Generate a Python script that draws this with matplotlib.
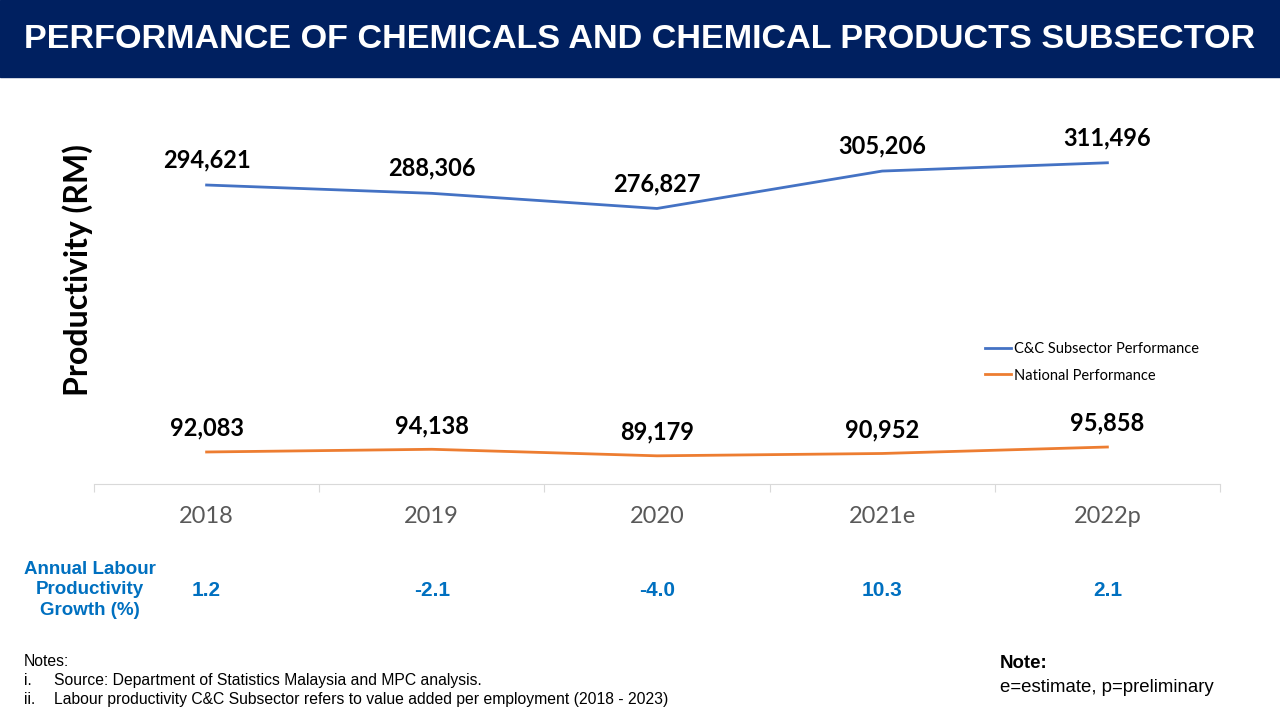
import matplotlib.pyplot as plt
from matplotlib.transforms import blended_transform_factory

years = ["2018", "2019", "2020", "2021e", "2022p"]
cc_values = [294621, 288306, 276827, 305206, 311496]
national_values = [92083, 94138, 89179, 90952, 95858]
growth = ["1.2", "-2.1", "-4.0", "10.3", "2.1"]

navy = "#002060"
blue = "#4472C4"
orange = "#ED7D31"
label_blue = "#0070C0"

fig = plt.figure(figsize=(12.8, 7.2), dpi=100)

# title bar
fig.patches.append(plt.Rectangle((0, 1 - 77 / 720), 1, 77 / 720, transform=fig.transFigure,
                                 color=navy, zorder=0))
fig.text(0.5, 1 - 40 / 720, "PERFORMANCE OF CHEMICALS AND CHEMICAL PRODUCTS SUBSECTOR",
         ha="center", va="center", color="white", fontsize=24.6, fontweight="bold",
         family="Liberation Sans")

ax = fig.add_axes([94 / 1280, 1 - 484 / 720, (1220 - 94) / 1280, (484 - 90) / 720])
x = list(range(len(years)))
ax.plot(x, cc_values, color=blue, lw=2, label="C&C Subsector Performance")
ax.plot(x, national_values, color=orange, lw=2, label="National Performance")

ax.set_xlim(-0.5, len(years) - 0.5)
ax.set_ylim(67800, 366700)

for xi, v in zip(x, cc_values):
    ax.annotate(f"{v:,}", (xi, v), xytext=(0, 18), textcoords="offset points",
                ha="center", va="center", fontsize=17, fontweight="bold", family="Lato")
for xi, v in zip(x, national_values):
    ax.annotate(f"{v:,}", (xi, v), xytext=(0, 17), textcoords="offset points",
                ha="center", va="center", fontsize=17, fontweight="bold", family="Lato")

for s in ["top", "right", "left"]:
    ax.spines[s].set_visible(False)
ax.spines["bottom"].set_color("#D9D9D9")
ax.set_yticks([])
ax.set_xticks([i - 0.5 for i in range(len(years) + 1)])
ax.set_xticklabels([])
ax.tick_params(axis="x", which="major", length=6, color="#D9D9D9")
ax.set_xticks(x, minor=True)
ax.set_xticklabels(years, minor=True, fontsize=17, color="#595959", family="Lato")
ax.tick_params(axis="x", which="minor", length=0, pad=16)

fig.text(78 / 1280, 1 - 270 / 720, "Productivity (RM)", rotation=90, ha="center", va="center",
         fontsize=23, fontweight="bold", family="Lato")

ax.legend(loc="upper left", bbox_to_anchor=(878 / 1126, 1 - (329 - 90) / 394), frameon=False,
          prop={"family": "Lato", "size": 10.5}, handlelength=1.8, handletextpad=0.15,
          labelspacing=0.85)

# growth row
tr = blended_transform_factory(ax.transData, fig.transFigure)
for xi, g in zip(x, growth):
    ax.text(xi, 1 - 591 / 720, g, transform=tr, ha="center", va="center", color=label_blue,
            fontsize=15, fontweight="bold", family="Liberation Sans")
fig.text(90 / 1280, 1 - 590 / 720, "Annual Labour\nProductivity\nGrowth (%)", ha="center",
         va="center", color=label_blue, fontsize=13.5, fontweight="bold",
         family="Liberation Sans", linespacing=1.3)

# notes
note_size = 11.3
fig.text(24 / 1280, 1 - 666 / 720, "Notes:", ha="left", va="baseline", fontsize=note_size,
         family="Liberation Sans")
fig.text(24 / 1280, 1 - 685 / 720, "i.", ha="left", va="baseline", fontsize=note_size,
         family="Liberation Sans")
fig.text(54 / 1280, 1 - 685 / 720, "Source: Department of Statistics Malaysia and MPC analysis.",
         ha="left", va="baseline", fontsize=note_size, family="Liberation Sans")
fig.text(24 / 1280, 1 - 704 / 720, "ii.", ha="left", va="baseline", fontsize=note_size,
         family="Liberation Sans")
fig.text(54 / 1280, 1 - 704 / 720,
         "Labour productivity C&C Subsector refers to value added per employment (2018 - 2023)",
         ha="left", va="baseline", fontsize=note_size, family="Liberation Sans")

fig.text(1000 / 1280, 1 - 663 / 720, "Note:", ha="left", va="center", fontsize=13.4,
         fontweight="bold", family="Liberation Sans")
fig.text(1000 / 1280, 1 - 687 / 720, "e=estimate, p=preliminary", ha="left", va="center",
         fontsize=13.4, family="Liberation Sans")

fig.savefig("out.png", dpi=100)
